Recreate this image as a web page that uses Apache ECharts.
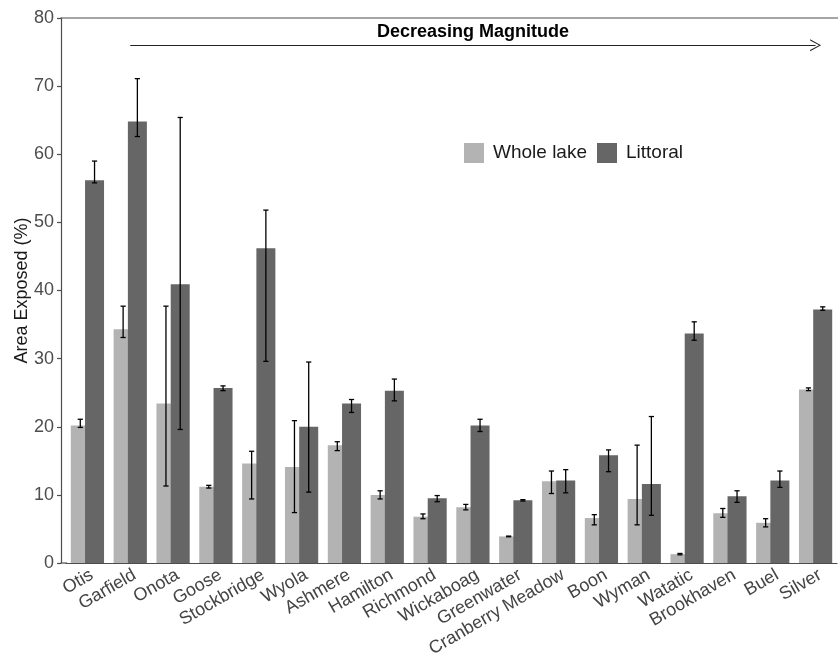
<!DOCTYPE html>
<html>
<head>
<meta charset="utf-8">
<script src="https://cdn.jsdelivr.net/npm/echarts@6/dist/echarts.min.js"></script>
<style>
html,body{margin:0;padding:0;background:#fff;}
#chart{width:838px;height:658px;}
</style>
</head>
<body>
<div id="chart"></div>
<script>
const categories = ['Otis','Garfield','Onota','Goose','Stockbridge','Wyola','Ashmere','Hamilton','Richmond','Wickaboag','Greenwater','Cranberry Meadow','Boon','Wyman','Watatic','Brookhaven','Buel','Silver'];

const wholeLake     = [20.2, 34.3, 23.4, 11.2, 14.6, 14.1, 17.3, 10.0, 6.8, 8.2, 3.9, 12.0, 6.6, 9.4, 1.3, 7.3, 5.9, 25.45];
const wholeLakeLow  = [19.9, 33.1, 11.3, 11.0, 9.4, 7.4, 16.5, 9.4, 6.5, 7.8, 3.85, 10.2, 5.6, 5.6, 1.2, 6.7, 5.3, 25.3];
const wholeLakeHigh = [21.1, 37.7, 37.7, 11.4, 16.4, 20.9, 17.8, 10.6, 7.2, 8.6, 3.95, 13.5, 7.1, 17.3, 1.4, 8.0, 6.5, 25.7];

const littoral      = [56.2, 64.8, 40.9, 25.7, 46.2, 20.0, 23.4, 25.3, 9.5, 20.2, 9.2, 12.1, 15.8, 11.6, 33.7, 9.8, 12.1, 37.2];
const littoralLow   = [55.8, 62.6, 19.6, 25.3, 29.6, 10.4, 22.1, 23.8, 9.0, 19.3, 9.1, 10.3, 13.4, 7.0, 32.7, 8.9, 11.1, 37.1];
const littoralHigh  = [59.0, 71.1, 65.4, 26.0, 51.8, 29.5, 24.0, 27.0, 9.9, 21.1, 9.3, 13.7, 16.6, 21.5, 35.4, 10.6, 13.5, 37.6];

const seriesNames = ['Whole lake', 'Littoral'];
const arrowLabel = 'Decreasing Magnitude';
const arrowStart = 'Garfield';
const arrowEnd = 'Silver';
const arrowLevel = 76;

const FONT = '"Liberation Sans", Arial, sans-serif';
const LIGHT = '#b3b3b3';
const DARK = '#666666';
const AXIS = '#4d4d4d';
const BAR_W = 19;
const BAR_GAP = -0.25; // fraction of bar width
const HALF_SHIFT = (BAR_W + BAR_W * BAR_GAP) / 2;

function errData(low, high) {
  return categories.map((c, i) => [i, low[i], high[i]]);
}

function errRender(shift) {
  return function (params, api) {
    const i = api.value(0);
    const lo = api.coord([i, api.value(1)]);
    const hi = api.coord([i, api.value(2)]);
    const x = lo[0] + shift;
    const cap = 2.6;
    const style = { stroke: '#000', lineWidth: 1.3 };
    return {
      type: 'group',
      children: [
        { type: 'line', shape: { x1: x, y1: lo[1], x2: x, y2: hi[1] }, style: style },
        { type: 'line', shape: { x1: x - cap, y1: lo[1], x2: x + cap, y2: lo[1] }, style: style },
        { type: 'line', shape: { x1: x - cap, y1: hi[1], x2: x + cap, y2: hi[1] }, style: style }
      ]
    };
  };
}

const chart = echarts.init(document.getElementById('chart'), null, { renderer: 'canvas' });

const option = {
  animation: false,
  backgroundColor: '#fff',
  textStyle: { fontFamily: FONT },
  grid: { left: 66, right: 1, top: 18, bottom: 95, containLabel: false, outerBoundsMode: 'none' },
  legend: {
    data: seriesNames,
    left: 464,
    top: 143,
    padding: 0,
    itemWidth: 20,
    itemHeight: 20,
    itemGap: 10,
    icon: 'rect',
    textStyle: { fontSize: 19, color: '#1a1a1a', fontFamily: FONT, padding: [0, 0, 0, 4] }
  },
  xAxis: {
    type: 'category',
    data: categories,
    axisLine: { lineStyle: { color: AXIS, width: 1.2 } },
    axisTick: { alignWithLabel: true, length: 4, lineStyle: { color: AXIS, width: 1.2 } },
    axisLabel: { rotate: 30, interval: 0, fontSize: 18, color: '#444', margin: 3, verticalAlign: 'top', fontFamily: FONT }
  },
  yAxis: {
    type: 'value',
    min: 0,
    max: 80,
    interval: 10,
    offset: 5,
    name: 'Area Exposed (%)',
    nameLocation: 'middle',
    nameGap: 30,
    nameMoveOverlap: false,
    nameTextStyle: { fontSize: 18, color: '#1a1a1a', fontFamily: FONT },
    splitLine: { show: false },
    axisLine: { show: true, lineStyle: { color: AXIS, width: 1.2 } },
    axisTick: { show: true, length: 4, lineStyle: { color: AXIS, width: 1.2 } },
    axisLabel: { fontSize: 18, color: AXIS, margin: 7, fontFamily: FONT }
  },
  graphic: [
    { type: 'line', shape: { x1: 60.5, y1: 18, x2: 838, y2: 18 }, style: { stroke: AXIS, lineWidth: 1.2 }, z: 10 },
    { type: 'line', shape: { x1: 60.5, y1: 563, x2: 67, y2: 563 }, style: { stroke: AXIS, lineWidth: 1.2 }, z: 10 }
  ],
  series: [
    {
      name: seriesNames[0],
      type: 'bar',
      data: wholeLake,
      barWidth: BAR_W,
      barGap: (BAR_GAP * 100) + '%',
      itemStyle: { color: LIGHT },
      z: 2
    },
    {
      name: seriesNames[1],
      type: 'bar',
      data: littoral,
      barWidth: BAR_W,
      barGap: (BAR_GAP * 100) + '%',
      itemStyle: { color: DARK },
      z: 2
    },
    {
      type: 'custom',
      name: 'err-whole',
      renderItem: errRender(-HALF_SHIFT),
      data: errData(wholeLakeLow, wholeLakeHigh),
      encode: { x: 0, y: [1, 2] },
      z: 5,
      silent: true,
      markLine: {
        silent: true,
        symbol: ['none', 'path://M0,10 L5,0 L10,10 L9,10 L5,1.8 L1,10 Z'],
        symbolSize: [12, 11],
        lineStyle: { type: 'solid', color: '#222', width: 1.2 },
        label: {
          show: true,
          position: 'middle',
          formatter: arrowLabel,
          fontSize: 18,
          fontWeight: 'bold',
          color: '#000',
          fontFamily: FONT,
          distance: 4
        },
        emphasis: { disabled: true },
        data: [[{ coord: [arrowStart, arrowLevel] }, { coord: [arrowEnd, arrowLevel] }]]
      }
    },
    {
      type: 'custom',
      name: 'err-littoral',
      renderItem: errRender(HALF_SHIFT),
      data: errData(littoralLow, littoralHigh),
      encode: { x: 0, y: [1, 2] },
      z: 5,
      silent: true
    }
  ]
};

chart.setOption(option);
</script>
</body>
</html>
